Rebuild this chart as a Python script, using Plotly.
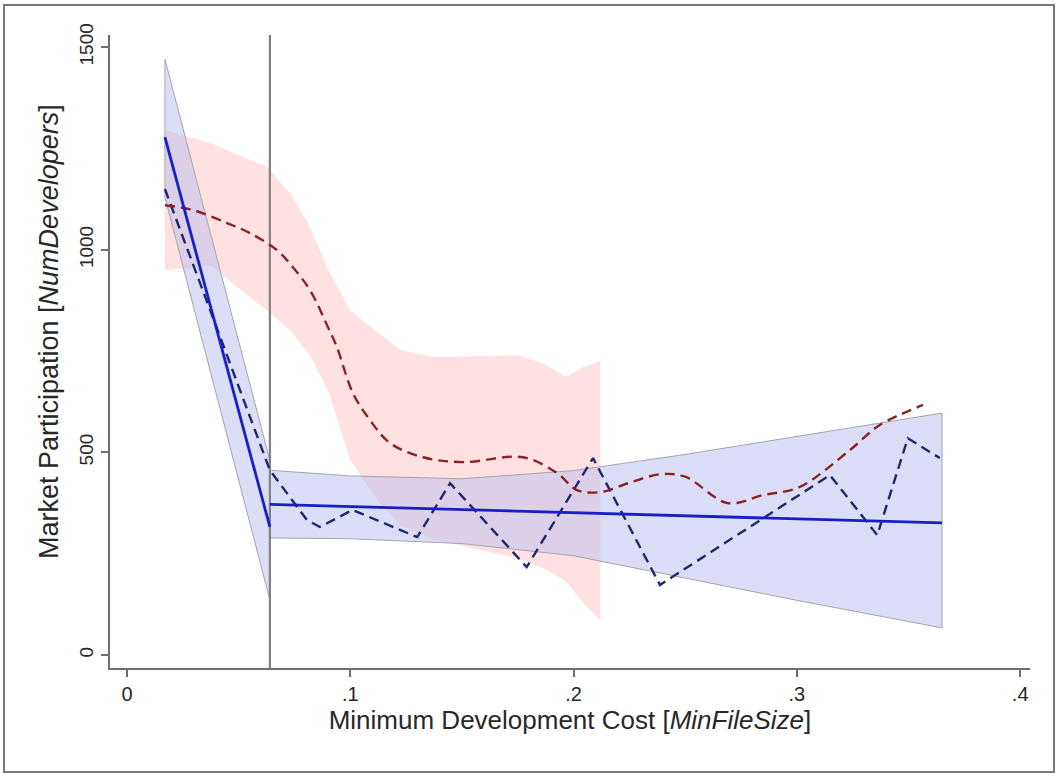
import plotly.graph_objects as go

# --- linear fit below the threshold ---------------------------------------
fit_lo_x = [0.017, 0.064]
fit_lo_y = [1278, 316]
ci_lo_x = [0.017, 0.064]
ci_lo_upper = [1470, 480]
ci_lo_lower = [1130, 136]

# --- linear fit above the threshold ---------------------------------------
fit_hi_x = [0.064, 0.365]
fit_hi_y = [372, 326]
ci_hi_x = [0.064, 0.10, 0.15, 0.20, 0.25, 0.30, 0.365]
ci_hi_upper = [456, 442, 435, 455, 495, 540, 597]
ci_hi_lower = [289, 287, 275, 245, 190, 135, 67]

# --- binned means (dashed navy) -------------------------------------------
bin_x = [0.017, 0.064, 0.0806, 0.0864, 0.101, 0.130, 0.1447, 0.179, 0.2087,
         0.2387, 0.3148, 0.336, 0.3497, 0.364]
bin_y = [1150, 456, 333, 316, 358, 291, 424, 217, 486,
         173, 444, 296, 535, 486]

# --- local polynomial smooth (dashed red) with its band --------------------
smooth_x = [0.017, 0.0296, 0.0448, 0.0551, 0.0672, 0.0743, 0.082, 0.0896,
            0.094, 0.1012, 0.1088, 0.1178, 0.1326, 0.1505, 0.1773, 0.1926,
            0.2015, 0.212, 0.225, 0.2387, 0.25, 0.269, 0.285, 0.301, 0.3238,
            0.337, 0.3565]
smooth_y = [1110, 1098, 1066, 1041, 999, 957, 900, 814,
            760, 646, 580, 523, 488, 476, 488, 449,
            407, 402, 425, 446, 440, 375, 395, 414, 506,
            567, 617]

band_x = [0.017, 0.0376, 0.0627, 0.073, 0.082, 0.0909, 0.1, 0.1124, 0.1227,
          0.1375, 0.175, 0.1863, 0.197, 0.204, 0.212]
band_upper = [1295, 1263, 1204, 1140, 1056, 942, 850, 795, 752,
              735, 740, 720, 686, 710, 725]
band_lower = [950, 960, 850, 802, 740, 640, 481, 380, 320,
              285, 238, 215, 180, 130, 86]

threshold_x = 0.064
y_ticks = [0, 500, 1000, 1500]
x_ticks = [0, 0.1, 0.2, 0.3, 0.4]
x_tick_text = ["0", ".1", ".2", ".3", ".4"]

BLUE_FILL = "rgba(186,190,240,0.5)"
PINK_FILL = "rgba(255,196,196,0.5)"
EDGE = "rgb(165,165,175)"

fig = go.Figure()

# smoothing band
fig.add_trace(go.Scatter(
    x=band_x + band_x[::-1], y=band_upper + band_lower[::-1],
    fill="toself", fillcolor=PINK_FILL, line=dict(width=0),
    mode="lines", hoverinfo="skip", showlegend=False))

# confidence bands of the two linear fits
for cx, up, lo in [(ci_lo_x, ci_lo_upper, ci_lo_lower),
                   (ci_hi_x, ci_hi_upper, ci_hi_lower)]:
    fig.add_trace(go.Scatter(
        x=cx + cx[::-1] + [cx[0]], y=up + lo[::-1] + [up[0]],
        fill="toself", fillcolor=BLUE_FILL, line=dict(width=1, color=EDGE),
        mode="lines", hoverinfo="skip", showlegend=False))

# threshold marker
fig.add_trace(go.Scatter(
    x=[threshold_x, threshold_x], y=[-32, 1530], mode="lines",
    line=dict(color="rgb(128,128,128)", width=2.2),
    hoverinfo="skip", showlegend=False))

# binned means
fig.add_trace(go.Scatter(
    x=bin_x, y=bin_y, mode="lines",
    line=dict(color="rgb(30,40,110)", width=2.4, dash="10px,6px"),
    showlegend=False))

# smooth
fig.add_trace(go.Scatter(
    x=smooth_x, y=smooth_y, mode="lines", line_shape="spline",
    line=dict(color="rgb(140,35,35)", width=2.4, dash="10px,6px"),
    showlegend=False))

# linear fits
for fx, fy in [(fit_lo_x, fit_lo_y), (fit_hi_x, fit_hi_y)]:
    fig.add_trace(go.Scatter(
        x=fx, y=fy, mode="lines",
        line=dict(color="rgb(25,30,200)", width=2.8),
        showlegend=False))

L, R, T, B = 110, 28, 35, 108
W, H = 1058, 776
pw, ph = W - L - R, H - T - B


def px(xp):
    return (xp - L) / pw


def py(yp):
    return (H - B - yp) / ph


# outer frame of the graph region
fig.add_shape(type="rect", xref="paper", yref="paper",
              x0=px(4), x1=px(1054), y0=py(772), y1=py(5),
              line=dict(color="rgb(120,120,120)", width=2), layer="below")

# vertical axis title
fig.add_annotation(
    text="Market Participation [<i>NumDevelopers</i>]",
    xref="paper", yref="paper", x=px(49), y=py(332),
    textangle=-90, showarrow=False, xanchor="center", yanchor="middle",
    font=dict(size=27))

font = "Liberation Sans, Arial, Helvetica, sans-serif"
fig.update_layout(
    width=W, height=H,
    margin=dict(l=L, r=R, t=T, b=B),
    paper_bgcolor="white", plot_bgcolor="white",
    font=dict(family=font, color="rgb(40,40,40)", size=18),
    xaxis=dict(
        range=[-0.0076, 0.4044], tickvals=x_ticks, ticktext=x_tick_text,
        showgrid=False, zeroline=False, showline=True,
        linecolor="rgb(110,110,110)", linewidth=2,
        ticks="outside", ticklen=7, tickwidth=1.5, tickcolor="rgb(110,110,110)",
        tickfont=dict(size=20),
        title=dict(text="Minimum Development Cost [<i>MinFileSize</i>]",
                   font=dict(size=26), standoff=2)),
    yaxis=dict(
        range=[-32, 1530], tickvals=y_ticks,
        showgrid=False, zeroline=False, showline=True,
        linecolor="rgb(110,110,110)", linewidth=2,
        ticks="outside", ticklen=7, tickwidth=1.5, tickcolor="rgb(110,110,110)",
        tickangle=-90, tickfont=dict(size=19)),
)

fig.write_html("out.html")
